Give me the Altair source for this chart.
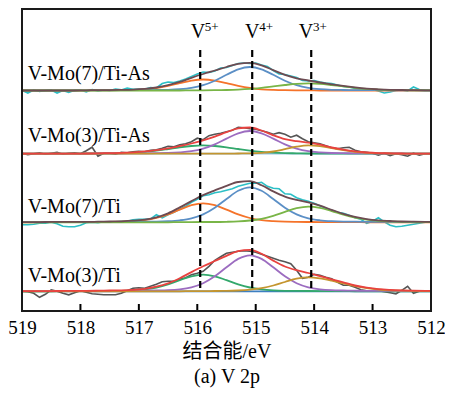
import altair as alt
import pandas as pd

# ---------------- data ----------------
FIT_EV = [round(519.1 - 0.2 * i, 1) for i in range(37)]
RAW_EV = [round(519.0 - 0.1 * j, 1) for j in range(71)]

SAMPLES = ["V-Mo(7)/Ti-As", "V-Mo(3)/Ti-As", "V-Mo(7)/Ti", "V-Mo(3)/Ti"]
OFFSETS = [220.5, 157.3, 88.7, 19.7]
LABEL_EV = [518.9, 518.9, 518.9, 518.9]
LABEL_Y = [231, 169, 98, 29]

PEAK_SUP = ["5+", "4+", "3+"]
PEAK_EV = [515.95, 515.06, 514.05]
PEAK_LABEL_EV = [515.99, 515.06, 514.14]
PEAK_LABEL_Y = [273, 273, 273]
DASH_TOP = [261, 261, 261]
DASH_BOTTOM = [20, 20, 20]

TICKS = [519, 518, 517, 516, 515, 514, 513, 512]

# V-Mo(7)/Ti-As
raw1 = [0, -2.5, 0.5, -1, 0, 0.5, -2.5, 0, -2, 0.3, 0.5, -1.5, 1, -0.5, 0.5, 0, 1.5, 0.6, 2.5, 1.2,
        1.5, 1.2, 3.0, 2.5, 7.0, 8.5, 8.0, 9.5, 11.5, 14, 16.5, 18.5, 18, 19.5, 22.5, 23, 25, 27, 27.5, 27,
        27.5, 25.5, 24, 20, 16.5, 16, 14.5, 13, 10, 9.5, 10, 8.5, 7.5, 7, 5.5, 4, 3.5, 2, 1.5, 0.5,
        1, -0.5, -2.5, -1.5, 0, 0.5, -0.5, 3.5, 1, 0.5, 0]
orange1 = [0, 0, 0, 0, 0, 0, 0, .2, .2, .3, .6, 1.2, 2.5, 4.6, 7.3, 9.9, 11.0, 9.9, 7.3, 4.6, 2.5, 1.2,
           .6, .3, .2, .2, 0, 0, 0, 0, 0, 0, 0, 0, 0, 0, 0]
blue1 = [0, 0, 0, 0, 0, 0, .2, .2, .2, .3, .3, .4, .5, .7, 1.3, 2.6, 5.3, 9.8, 15.7, 21.2, 23.5, 21.2,
         15.7, 9.8, 5.3, 2.6, 1.3, .7, .5, .4, .3, .3, .2, .2, .2, 0, 0]
green1 = [0, 0, 0, 0, 0, 0, 0, 0, 0, 0, 0, 0, 0, 0, 0, .2, .2, .3, .5, .9, 1.6, 2.7, 4.1, 5.5, 6.7, 7.2,
          6.7, 5.5, 4.1, 2.7, 1.6, .9, .5, .3, .2, .2, 0]
env1 = [0, 0, 0, 0, 0, 0, .2, .4, .4, .6, .9, 1.6, 3.0, 5.3, 8.6, 12.7, 16.5, 20.0, 23.5, 26.7, 27.6,
        25.1, 20.4, 15.6, 12.2, 10.0, 8.0, 6.2, 4.6, 3.1, 1.9, 1.2, .7, .5, .4, .2, 0]

# V-Mo(3)/Ti-As
raw2 = [0.5, -1, 0, 1, -0.5, 0.5, 1.5, -0.5, 0.5, 1, 0, 3, 6.5, -2.5, 0.5, 0.5, -0.5, 1.5, 1, 2,
        2.5, 2, 3.5, 4, 5.5, 7.5, 7, 9, 10, 12, 15.5, 14, 18, 19.5, 20.5, 22, 23.5, 26.5, 26, 25,
        24.5, 23, 21.5, 19.5, 21, 19.5, 16.5, 18.5, 15, 12, 11, 10, 8, 6, 5, 6, 6.5, 3.5, 2, 1.5,
        0.5, -1.5, 0.5, -2, 0, -1, -2.5, 0.5, -1.5, 0, 0]
teal2 = [0, 0, 0, 0, 0, 0, .2, .2, .4, .6, 1.1, 1.9, 3.1, 4.7, 6.4, 7.7, 8.3, 7.7, 6.4, 4.7, 3.1, 1.9,
         1.1, .6, .4, .2, .2, 0, 0, 0, 0, 0, 0, 0, 0, 0, 0]
purple2 = [0, 0, 0, 0, 0, 0, 0, .2, .2, .2, .3, .4, .5, .7, 1.3, 2.5, 5.1, 9.4, 15.1, 20.4, 22.7, 20.4,
           15.1, 9.4, 5.1, 2.5, 1.3, .7, .5, .4, .3, .2, .2, .2, 0, 0, 0]
gold2 = [0, 0, 0, 0, 0, 0, 0, 0, 0, 0, 0, 0, 0, 0, 0, 0, 0, 0, 0, .2, .4, .9, 2.2, 4.5, 7.0, 8.3, 7.5,
         5.5, 3.5, 1.9, .9, .4, .2, 0, 0, 0, 0]
env2 = [0, 0, 0, 0, 0, 0, .2, .4, .6, .8, 1.4, 2.3, 3.6, 5.4, 7.7, 10.2, 13.4, 17.1, 21.5, 25.3, 26.2,
        23.2, 18.4, 14.5, 12.5, 11.0, 9.0, 6.2, 4.0, 2.3, 1.2, .6, .4, .2, 0, 0, 0]

# V-Mo(7)/Ti
raw3 = [-2.5, -2.5, -2, -1, -1, 0, -1.5, -4, -4.5, -4.5, -3, -0.5, 0, -0.5, 0.5, 0, 0.5, 1, 1, 2.5,
        3, 3, 3.5, 7.5, 4.5, 7.5, 10, 13, 16, 20, 23, 26.5, 27.5, 29.5, 30.5, 32, 33.5, 36, 37.5, 39,
        39, 40, 36, 34, 33.5, 28.5, 28, 24.5, 22.5, 21, 19, 16.5, 14, 12, 10, 9, 7, 4.5, 3, -1,
        1, 4.5, 0.5, -3, -4.5, -4, -3, -2, -1, 0, 0.5]
orange3 = [0, 0, 0, .2, .2, .2, .2, .3, .4, .6, 1.1, 2.1, 4.3, 7.9, 12.7, 17.1, 19.0, 17.1, 12.7, 7.9,
           4.3, 2.1, 1.1, .6, .4, .3, .2, .2, .2, .2, 0, 0, 0, 0, 0, 0, 0]
blue3 = [.2, .2, .2, .2, .2, .2, .2, .3, .4, .4, .5, .6, .7, 1.1, 2.0, 3.9, 7.9, 14.6, 23.3, 31.5, 35.0,
         31.5, 23.3, 14.6, 7.9, 3.9, 2.0, 1.1, .7, .6, .5, .4, .4, .3, .2, .2, .2]
green3 = [0, 0, 0, 0, 0, 0, 0, 0, 0, 0, 0, 0, 0, 0, .2, .2, .3, .3, .5, .9, 1.8, 3.5, 6.5, 10.5, 14.1,
          15.7, 14.4, 11.2, 7.6, 4.7, 2.7, 1.5, .9, .5, .4, .3, .3]
env3 = [.2, .2, .2, .4, .4, .4, .4, .6, .8, 1.0, 1.6, 2.7, 5.0, 9.0, 14.9, 21.2, 27.2, 32.0, 36.5, 40.3,
        41.1, 37.1, 30.9, 25.7, 22.4, 19.9, 16.6, 12.5, 8.5, 5.5, 3.2, 1.9, 1.3, .8, .6, .5, .5]

# V-Mo(3)/Ti
raw4 = [0, -0.5, -2, -6, -3, 1.5, 0, -2, -3.5, -1.5, 0.5, -1, -2.5, -3, -3.5, -3.5, -3.5, -2, 0.5, 3,
        3.5, 3, 5, 7, 9.5, 10, 10, 12, 13.5, 16.5, 18, 20, 25, 31, 34.5, 38, 39, 40, 40.5, 40,
        39, 37, 35, 33, 31, 29.5, 27.5, 21, 13, 14, 17, 16, 14, 12.5, 9, 6, 6, 4, 1.5, 0.5,
        0, 0.5, -0.5, -1.5, -2.5, 1, 5, -2, 0, 0.5, 0]
teal4 = [0, 0, 0, 0, .2, .2, .2, .3, .4, .5, .9, 1.9, 3.8, 6.9, 11.1, 15.0, 16.7, 15.0, 11.1, 6.9, 3.8,
         1.9, .9, .5, .4, .3, .2, .2, .2, 0, 0, 0, 0, 0, 0, 0, 0]
purple4 = [.2, .2, .2, .2, .2, .2, .3, .3, .4, .4, .5, .6, .8, 1.1, 2.0, 4.0, 8.1, 15.0, 24.0, 32.4, 36.0,
           32.4, 24.0, 15.0, 8.1, 4.0, 2.0, 1.1, .8, .6, .5, .4, .4, .3, .3, .2, .2]
gold4 = [0, 0, 0, 0, 0, 0, 0, 0, 0, 0, 0, 0, 0, 0, 0, .2, .2, .3, .4, .8, 1.6, 3.2, 5.8, 9.3, 12.6, 14.0,
         13.0, 10.7, 7.9, 5.2, 3.2, 1.8, 1.0, .6, .4, .3, .2]
env4 = [.2, .2, .2, .2, .4, .4, .5, .6, .8, .9, 1.4, 2.5, 4.6, 8.0, 13.1, 19.2, 25.0, 30.3, 35.5, 40.1,
        41.4, 37.5, 30.7, 24.8, 21.1, 18.3, 15.2, 12.0, 8.9, 5.8, 3.7, 2.2, 1.4, .9, .7, .5, .4]

BG_EV = [519.1, 511.9]
BG_VAL = [0, 0]

# ---------------- styles ----------------
CYAN, ORANGE, BLUE, YGREEN, BROWN = "#2bbfc6", "#f5732a", "#5b8fc6", "#79b547", "#6d4b52"
GRAY, RED, PURPLE, TEAL, GOLD = "#555555", "#e8423f", "#9c6cc0", "#33a86c", "#c4952f"
BGBLUE, BGLIGHT = "#3d7fc1", "#9cc3e6"

SERIF = "'Liberation Serif', 'Times New Roman', 'Noto Sans CJK SC', serif"
PW, PH = 409, 302

curves = [
    # (sample index, key, kind, ev, values, color)
    (0, "raw1", "raw", RAW_EV, raw1, CYAN),
    (0, "o1", "comp", FIT_EV, orange1, ORANGE),
    (0, "b1", "comp", FIT_EV, blue1, BLUE),
    (0, "g1", "comp", FIT_EV, green1, YGREEN),
    (0, "e1", "env", FIT_EV, env1, BROWN),
    (1, "bg2", "bg", BG_EV, BG_VAL, BGLIGHT),
    (1, "raw2", "raw", RAW_EV, raw2, GRAY),
    (1, "t2", "comp", FIT_EV, teal2, TEAL),
    (1, "p2", "comp", FIT_EV, purple2, PURPLE),
    (1, "y2", "comp", FIT_EV, gold2, GOLD),
    (1, "e2", "env", FIT_EV, env2, RED),
    (2, "raw3", "raw", RAW_EV, raw3, CYAN),
    (2, "o3", "comp", FIT_EV, orange3, ORANGE),
    (2, "b3", "comp", FIT_EV, blue3, BLUE),
    (2, "g3", "comp", FIT_EV, green3, YGREEN),
    (2, "e3", "env", FIT_EV, env3, BROWN),
    (3, "bg4", "bg", BG_EV, BG_VAL, BGBLUE),
    (3, "raw4", "raw", RAW_EV, raw4, GRAY),
    (3, "t4", "comp", FIT_EV, teal4, TEAL),
    (3, "p4", "comp", FIT_EV, purple4, PURPLE),
    (3, "y4", "comp", FIT_EV, gold4, GOLD),
    (3, "e4", "env", FIT_EV, env4, RED),
]

rows = []
for s, key, kind, evs, vals, col in curves:
    for x, v in zip(evs, vals):
        rows.append({"eV": x, "y": OFFSETS[s] + v, "key": key, "kind": kind})
df = pd.DataFrame(rows)

keys = [c[1] for c in curves]
cols = [c[5] for c in curves]

xscale = alt.Scale(domain=[519, 512], nice=False, zero=False)
yscale = alt.Scale(domain=[0, 302], nice=False, zero=False)
xaxis = alt.Axis(values=TICKS, format="d", labelFontSize=19, labelFont=SERIF, labelColor="black",
                 labelFlush=False, labelOverlap=False,
                 ticks=False, domain=False, grid=False, labelPadding=7,
                 title=["结合能/eV", "(a) V 2p"], titleFont=SERIF, titleFontSize=20,
                 titleFontWeight="normal", titleColor="black", titleLineHeight=25, titlePadding=4)

X = alt.X("eV:Q", scale=xscale, axis=xaxis)
Y = alt.Y("y:Q", scale=yscale, axis=None)
C = alt.Color("key:N", scale=alt.Scale(domain=keys, range=cols), legend=None)

base = alt.Chart(df)
bg = base.transform_filter(alt.datum.kind == "bg").mark_line(strokeWidth=1.8, clip=True).encode(x=X, y=Y, color=C)
raw = base.transform_filter(alt.datum.kind == "raw").mark_line(strokeWidth=1.6, clip=True).encode(x=X, y=Y, color=C)
comp = base.transform_filter(alt.datum.kind == "comp").mark_line(
    strokeWidth=1.8, interpolate="monotone", clip=True).encode(x=X, y=Y, color=C)
env = base.transform_filter(alt.datum.kind == "env").mark_line(
    strokeWidth=1.8, interpolate="monotone", clip=True).encode(x=X, y=Y, color=C)

peaks = pd.DataFrame({"eV": PEAK_EV, "top": DASH_TOP, "bottom": DASH_BOTTOM,
                      "lev": PEAK_LABEL_EV, "ly": PEAK_LABEL_Y, "sup": PEAK_SUP})
dashes = alt.Chart(peaks).mark_rule(color="black", strokeWidth=2.2, strokeDash=[7, 4]).encode(
    x=X, y=alt.Y("top:Q", scale=yscale, axis=None), y2="bottom:Q")
vtext = alt.Chart(peaks).mark_text(text="V", font=SERIF, fontSize=20, align="center",
                                   baseline="alphabetic", color="black").encode(
    x=alt.X("lev:Q", scale=xscale, axis=xaxis), y=alt.Y("ly:Q", scale=yscale, axis=None))
stext = alt.Chart(peaks).mark_text(font=SERIF, fontSize=13, align="left", baseline="alphabetic",
                                   dx=7, dy=-7, color="black").encode(
    x=alt.X("lev:Q", scale=xscale, axis=xaxis), y=alt.Y("ly:Q", scale=yscale, axis=None), text="sup:N")

labels = pd.DataFrame({"eV": LABEL_EV, "y": LABEL_Y, "name": SAMPLES})
ltext = alt.Chart(labels).mark_text(font=SERIF, fontSize=20, align="left", baseline="alphabetic",
                                    color="black").encode(x=X, y=Y, text="name:N")

ticks = alt.Chart(pd.DataFrame({"eV": TICKS[1:-1]})).mark_rule(color="black", strokeWidth=2).encode(
    x=X, y=alt.value(PH - 7), y2=alt.value(PH))

frame = alt.Chart(pd.DataFrame({"f": [0]})).mark_rect(
    filled=False, stroke="#1a1a1a", strokeWidth=2).encode(
    x=alt.value(0), x2=alt.value(PW), y=alt.value(0), y2=alt.value(PH))

chart = alt.layer(bg, raw, comp, env, dashes, vtext, stext, ltext, ticks, frame).properties(
    width=PW, height=PH,
    autosize=alt.AutoSizeParams(type="none"),
    padding={"left": 14, "top": 1, "right": 14, "bottom": 80},
).configure_view(strokeWidth=0, stroke=None)

chart.save("out.html", embed_options={"renderer": "svg", "actions": False})
